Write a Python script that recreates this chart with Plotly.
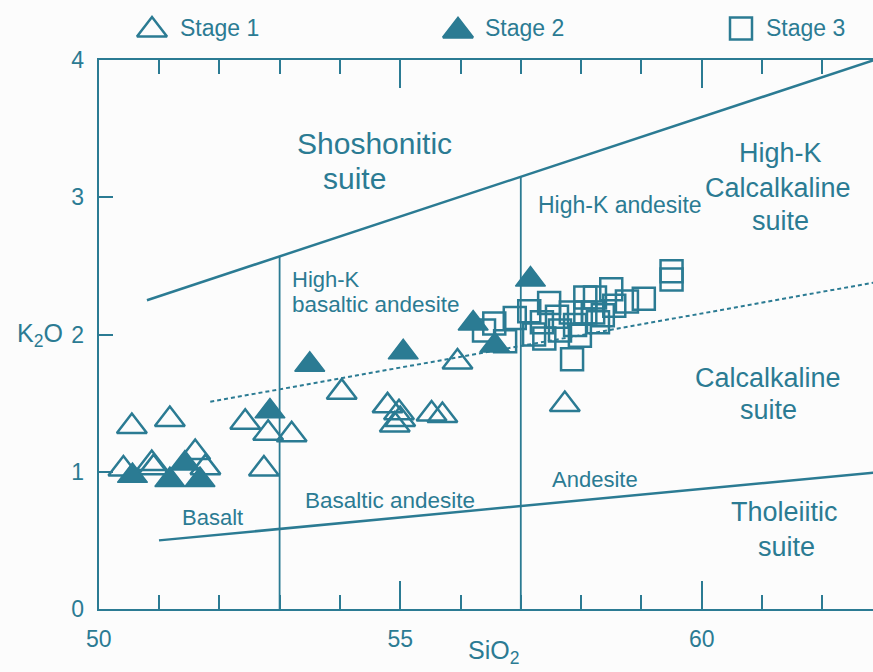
import plotly.graph_objects as go
import numpy as np

# ---------------- data ----------------
stage1_x = [50.55, 51.18, 50.41, 50.88, 50.91, 51.60, 51.77, 52.43, 52.81, 53.20, 52.74,
            54.03, 55.95, 54.79, 54.98, 54.91, 55.00, 55.52, 55.70, 57.73]
stage1_y = [1.33, 1.38, 1.02, 1.06, 1.03, 1.14, 1.03, 1.36, 1.28, 1.27, 1.02,
            1.58, 1.80, 1.48, 1.43, 1.34, 1.38, 1.42, 1.41, 1.49]

stage2_x = [50.56, 51.18, 51.43, 51.68, 52.84, 53.50, 55.05, 56.21, 56.57, 57.16]
stage2_y = [0.97, 0.94, 1.06, 0.94, 1.44, 1.78, 1.87, 2.08, 1.92, 2.40]

stage3_x = [56.56, 56.39, 56.74, 57.14, 57.47, 57.35, 57.22, 57.39, 57.85, 57.83,
            58.07, 58.23, 58.20, 58.36, 58.28, 58.50, 58.76, 59.04, 59.50, 59.50,
            57.65, 57.90, 57.98, 56.90, 57.60, 58.07, 58.55]
stage3_y = [2.08, 2.03, 1.95, 2.17, 2.23, 2.09, 2.00, 1.97, 1.82, 2.16,
            2.27, 2.27, 2.16, 2.14, 2.09, 2.33, 2.24, 2.26, 2.46, 2.40,
            2.03, 2.07, 1.99, 2.12, 2.13, 2.16, 2.21]

# classification boundaries (Peccerillo & Taylor style)
shosh_x = [50.8, 63.0]
shosh_y = [2.25, 4.02]
highk_x = [51.85, 63.0]
highk_y = [1.51, 2.39]
thol_x = [51.0, 63.0]
thol_y = [0.50, 1.00]
divide_x = [53.0, 57.0]

legend_names = ["Stage 1", "Stage 2", "Stage 3"]

# ---------------- style ----------------
C = "#2b7b93"
FONT = "Liberation Sans, Arial, sans-serif"
W, H = 873, 672
L_PX, T_PX, B_PX = 98.7, 60, 609

fig = go.Figure()

# boundaries
fig.add_trace(go.Scatter(x=shosh_x, y=shosh_y, mode="lines",
                         line=dict(color=C, width=2.5), showlegend=False, hoverinfo="skip"))
fig.add_trace(go.Scatter(x=highk_x, y=highk_y, mode="lines",
                         line=dict(color=C, width=2, dash="4px,3px"), showlegend=False, hoverinfo="skip"))
fig.add_trace(go.Scatter(x=thol_x, y=thol_y, mode="lines",
                         line=dict(color=C, width=2.5), showlegend=False, hoverinfo="skip"))
for dx in divide_x:
    top = float(np.interp(dx, shosh_x, shosh_y))
    fig.add_trace(go.Scatter(x=[dx, dx], y=[0, top], mode="lines",
                             line=dict(color=C, width=1.8), showlegend=False, hoverinfo="skip"))

# data points
fig.add_trace(go.Scatter(x=stage1_x, y=stage1_y, mode="markers", name="Stage 1",
                         marker=dict(symbol="triangle-up", size=26, color="rgba(0,0,0,0)",
                                     line=dict(color=C, width=2.5)), showlegend=False))
fig.add_trace(go.Scatter(x=stage3_x, y=stage3_y, mode="markers", name="Stage 3",
                         marker=dict(symbol="square", size=22, color="rgba(0,0,0,0)",
                                     line=dict(color=C, width=2.5)), showlegend=False))
fig.add_trace(go.Scatter(x=stage2_x, y=stage2_y, mode="markers", name="Stage 2",
                         marker=dict(symbol="triangle-up", size=26, color=C,
                                     line=dict(color=C, width=1.5)), showlegend=False))

# custom legend keys on an overlay axis in pixel space
leg_x = [152, 458, 741]
leg_y = [30, 31, 28.5]
leg_sym = ["triangle-up", "triangle-up", "square"]
leg_fill = ["rgba(0,0,0,0)", C, "rgba(0,0,0,0)"]
leg_size = [26, 26, 22]
for i in range(3):
    fig.add_trace(go.Scatter(x=[leg_x[i]], y=[leg_y[i]], xaxis="x2", yaxis="y2", mode="markers",
                             marker=dict(symbol=leg_sym[i], size=leg_size[i], color=leg_fill[i],
                                         line=dict(color=C, width=2.5)),
                             showlegend=False, hoverinfo="skip"))
leg_text_x = [178, 483, 764]
for i in range(3):
    fig.add_annotation(x=leg_text_x[i], y=27.5, xref="x2", yref="y2", text=legend_names[i],
                       showarrow=False, xanchor="left", yanchor="middle",
                       font=dict(family=FONT, size=23, color=C))

# region labels (data coords)
labels = [
    ("Shoshonitic", 54.57, 3.39, 30, "center"),
    ("suite", 54.25, 3.14, 30, "center"),
    ("High-K", 61.30, 3.32, 27, "center"),
    ("Calcalkaline", 61.27, 3.07, 27, "center"),
    ("suite", 61.30, 2.83, 27, "center"),
    ("High-K andesite", 58.64, 2.94, 23, "center"),
    ("High-K", 53.18, 2.40, 22, "left"),
    ("basaltic andesite", 53.18, 2.22, 22.5, "left"),
    ("Calcalkaline", 61.10, 1.68, 27, "center"),
    ("suite", 61.10, 1.45, 27, "center"),
    ("Tholeiitic", 61.38, 0.71, 27, "center"),
    ("suite", 61.40, 0.45, 27, "center"),
    ("Basalt", 51.88, 0.67, 22, "center"),
    ("Basaltic andesite", 54.83, 0.79, 22.5, "center"),
    ("Andesite", 58.23, 0.94, 22, "center"),
]
for t, x, y, s, anc in labels:
    fig.add_annotation(x=x, y=y, xref="x", yref="y", text=t, showarrow=False,
                       xanchor=anc, yanchor="middle", font=dict(family=FONT, size=s, color=C))

# axis titles
fig.add_annotation(x=40, y=335, xref="x2", yref="y2", text="K<sub>2</sub>O", showarrow=False,
                   font=dict(family=FONT, size=25, color=C))
fig.add_annotation(x=493, y=652, xref="x2", yref="y2", text="SiO<sub>2</sub>", showarrow=False,
                   font=dict(family=FONT, size=25, color=C))

xmax = 50 + (W - L_PX) / 60.3
fig.update_layout(
    width=W, height=H,
    margin=dict(l=0, r=0, t=0, b=0, autoexpand=False),
    paper_bgcolor="#fcfcfc",
    plot_bgcolor="rgba(0,0,0,0)",
    showlegend=False,
    xaxis=dict(domain=[L_PX / W, 1], range=[50, xmax], tickvals=[50, 55, 60],
               ticks="inside", ticklen=28, tickwidth=2, tickcolor=C, automargin=False,
               minor=dict(dtick=1, ticks="inside", ticklen=14, tickwidth=1.5, tickcolor=C),
               showline=True, linecolor=C, linewidth=2, mirror="ticks",
               showgrid=False, zeroline=False, ticklabelstandoff=8,
               tickfont=dict(family=FONT, size=23, color=C)),
    yaxis=dict(domain=[(H - B_PX) / H, (H - T_PX) / H], range=[0, 4], tickvals=[0, 1, 2, 3, 4],
               ticks="inside", ticklen=14, tickwidth=1.5, tickcolor=C, automargin=False,
               showline=True, linecolor=C, linewidth=2, mirror=False,
               showgrid=False, zeroline=False, ticklabelstandoff=8,
               tickfont=dict(family=FONT, size=23, color=C)),
    xaxis2=dict(domain=[0, 1], range=[0, W], anchor="y2", visible=False, fixedrange=True,
                automargin=False),
    yaxis2=dict(domain=[0, 1], range=[H, 0], anchor="x2", visible=False, fixedrange=True,
                automargin=False),
)

fig.write_html("out.html")
